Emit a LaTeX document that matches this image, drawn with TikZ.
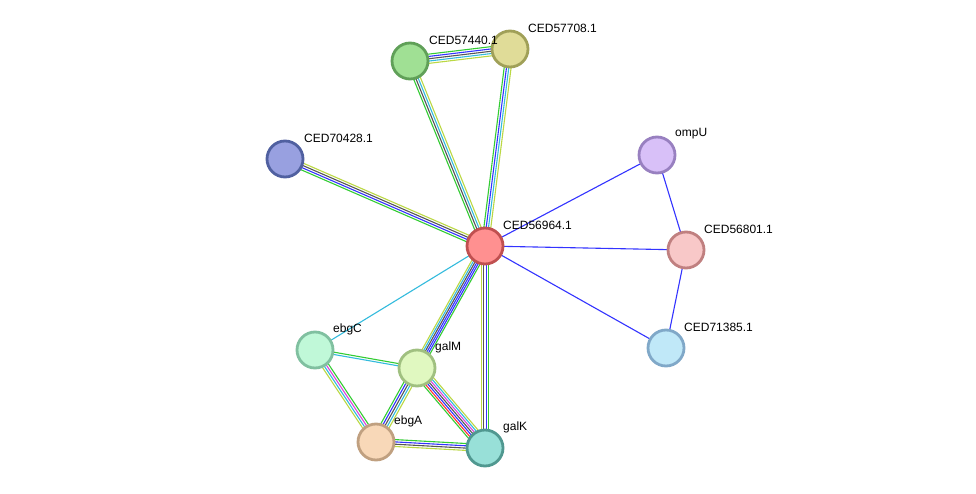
\documentclass[tikz,border=0pt]{standalone}
\usepackage{fontspec}
\setmainfont{Liberation Sans}
\usetikzlibrary{calc,backgrounds}
\definecolor{egreen}{HTML}{33CC33}
\definecolor{eblue}{HTML}{3333FF}
\definecolor{eblack}{HTML}{555555}
\definecolor{ecyan}{HTML}{33BBDD}
\definecolor{eyellow}{HTML}{BBD844}
\definecolor{emagenta}{HTML}{DD44DD}
\definecolor{ered}{HTML}{FF3333}
\newcommand\medge[5]{%
  \foreach \cc [count=\ii] in {#4} {%
    \pgfmathsetmacro\off{(\ii-(#3+1)/2)*#5}
    \draw[\cc, line width=1.1pt] ($(#1)!\off pt!90:(#2)$) -- ($(#2)!\off pt!-90:(#1)$);
  }%
}
\tikzset{
  prot/.style={circle, minimum size=36pt, inner sep=0pt, line width=2.8pt},
  lab/.style={anchor=west, font=\fontsize{12}{14}\selectfont, inner sep=1pt},
}
\begin{document}
\begin{tikzpicture}[x=1pt,y=-1pt]
\useasboundingbox (0,0) rectangle (976,494);
\node[prot, fill={rgb,255:red,255;green,144;blue,144}, draw={rgb,255:red,192;green,80;blue,80}] (c64) at (485,246) {};
\node[prot, fill={rgb,255:red,160;green,224;blue,148}, draw={rgb,255:red,96;green,160;blue,88}] (c40) at (410,61) {};
\node[prot, fill={rgb,255:red,224;green,220;blue,152}, draw={rgb,255:red,160;green,160;blue,88}] (c08) at (510,49) {};
\node[prot, fill={rgb,255:red,152;green,160;blue,224}, draw={rgb,255:red,80;green,96;blue,160}] (c28) at (285,159) {};
\node[prot, fill={rgb,255:red,216;green,192;blue,248}, draw={rgb,255:red,152;green,128;blue,192}] (omp) at (657,155) {};
\node[prot, fill={rgb,255:red,248;green,200;blue,200}, draw={rgb,255:red,192;green,128;blue,128}] (c01) at (686,250) {};
\node[prot, fill={rgb,255:red,192;green,232;blue,248}, draw={rgb,255:red,128;green,168;blue,200}] (c85) at (666,348) {};
\node[prot, fill={rgb,255:red,192;green,248;blue,216}, draw={rgb,255:red,128;green,192;blue,160}] (ebc) at (315,350) {};
\node[prot, fill={rgb,255:red,224;green,248;blue,192}, draw={rgb,255:red,160;green,192;blue,128}] (glm) at (417,368) {};
\node[prot, fill={rgb,255:red,248;green,216;blue,184}, draw={rgb,255:red,192;green,160;blue,128}] (eba) at (376,442) {};
\node[prot, fill={rgb,255:red,152;green,224;blue,216}, draw={rgb,255:red,80;green,152;blue,144}] (glk) at (485,448) {};
\begin{pgfonlayer}{background}
\fill[white] (0,0) rectangle (976,494);
\medge{c64}{c40}{4}{eyellow,ecyan,eblack,egreen}{2.3}
\medge{c64}{c08}{4}{eyellow,ecyan,eblue,egreen}{2.3}
\medge{c40}{c08}{5}{eyellow,ecyan,eblack,eblue,egreen}{2.3}
\medge{c64}{c28}{4}{eyellow,eblack,eblue,egreen}{2.3}
\medge{c64}{omp}{1}{eblue}{2.3}
\medge{c64}{c01}{1}{eblue}{2.3}
\medge{c64}{c85}{1}{eblue}{2.3}
\medge{omp}{c01}{1}{eblue}{2.3}
\medge{c01}{c85}{1}{eblue}{2.3}
\medge{c64}{ebc}{1}{ecyan}{2.3}
\medge{c64}{glm}{6}{eyellow,ecyan,eblack,eblue,eblue,egreen}{1.8}
\medge{c64}{glk}{4}{eyellow,eblack,eblue,egreen}{2.3}
\medge{ebc}{glm}{2}{ecyan,egreen}{2.3}
\medge{ebc}{eba}{4}{eyellow,ecyan,emagenta,egreen}{2.3}
\medge{glm}{eba}{5}{egreen,eblue,eblack,ecyan,eyellow}{2.3}
\medge{glm}{glk}{7}{egreen,ered,eblue,eblack,emagenta,ecyan,eyellow}{2.1}
\medge{eba}{glk}{4}{eyellow,eblack,eblue,egreen}{2.3}
\end{pgfonlayer}
\node[lab] (l64) at (502,225) {CED56964.1};
\node[lab] (l40) at (428,40) {CED57440.1};
\node[lab] (l08) at (527,28) {CED57708.1};
\node[lab] (l28) at (303,138) {CED70428.1};
\node[lab] (lom) at (674,134) {ompU};
\node[lab] (l01) at (703,229) {CED56801.1};
\node[lab] (l85) at (683,327) {CED71385.1};
\node[lab] (lec) at (332,329) {ebgC};
\node[lab] (lgm) at (434,347) {galM};
\node[lab] (lea) at (393,421) {ebgA};
\node[lab] (lgk) at (502,427) {galK};
\end{tikzpicture}
\end{document}
